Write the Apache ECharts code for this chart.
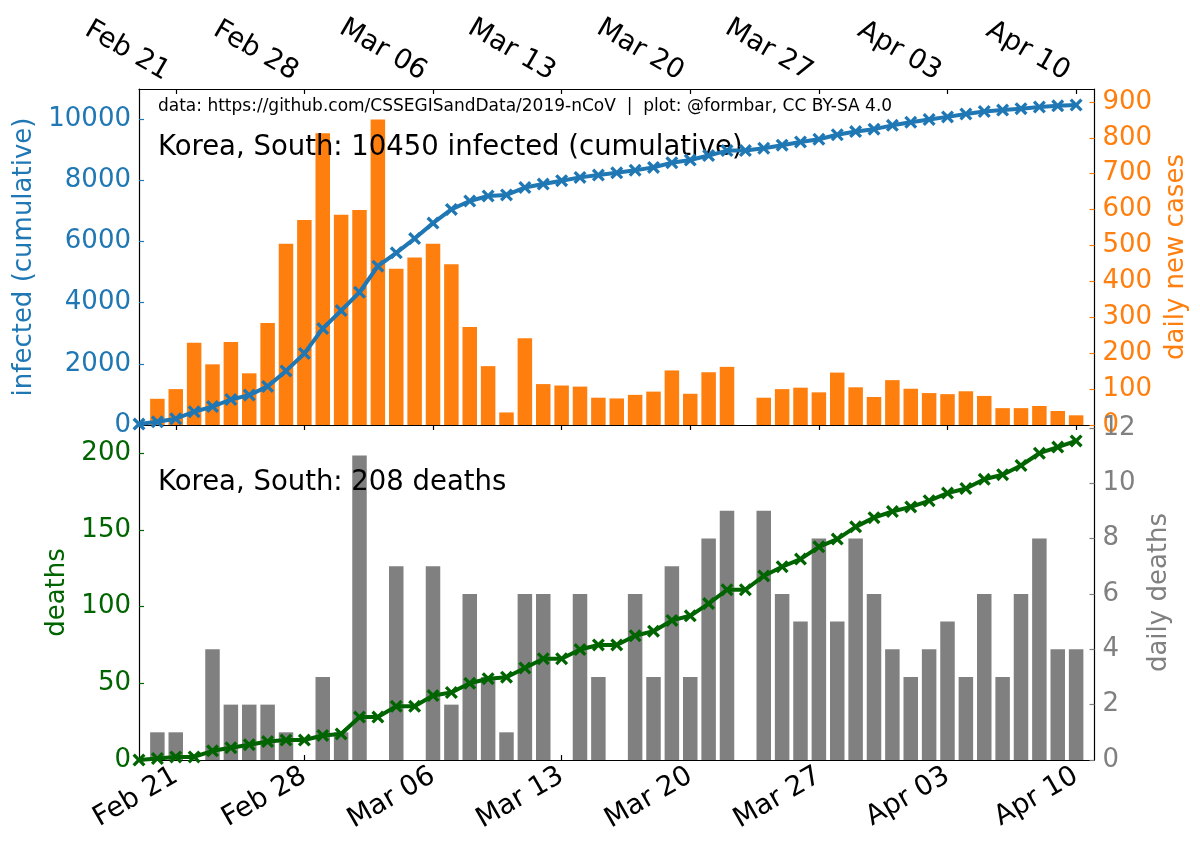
<!DOCTYPE html>
<html>
<head>
<meta charset="utf-8">
<script src="https://cdn.jsdelivr.net/npm/echarts@6/dist/echarts.min.js"></script>
<style>html,body{margin:0;padding:0;background:#fff}#c{width:1200px;height:850px}</style>
</head>
<body>
<div id="c"></div>
<script>
// ---- data ----
const dates = ['2020-02-19','2020-02-20','2020-02-21','2020-02-22','2020-02-23','2020-02-24','2020-02-25','2020-02-26','2020-02-27','2020-02-28','2020-02-29',
'2020-03-01','2020-03-02','2020-03-03','2020-03-04','2020-03-05','2020-03-06','2020-03-07','2020-03-08','2020-03-09','2020-03-10',
'2020-03-11','2020-03-12','2020-03-13','2020-03-14','2020-03-15','2020-03-16','2020-03-17','2020-03-18','2020-03-19','2020-03-20',
'2020-03-21','2020-03-22','2020-03-23','2020-03-24','2020-03-25','2020-03-26','2020-03-27','2020-03-28','2020-03-29','2020-03-30','2020-03-31',
'2020-04-01','2020-04-02','2020-04-03','2020-04-04','2020-04-05','2020-04-06','2020-04-07','2020-04-08','2020-04-09','2020-04-10'];
const cumInfected = [31,104,204,433,602,833,977,1261,1766,2337,3150,
3736,4335,5186,5621,6088,6593,7041,7314,7478,7513,
7755,7869,7979,8086,8162,8236,8320,8413,8565,8652,
8799,8961,8961,9037,9137,9241,9332,9478,9583,9661,9786,
9887,9976,10062,10156,10237,10284,10331,10384,10423,10450];
// daily values start at Feb 20
const dailyCases = [73,100,229,169,231,144,284,505,571,813,
586,599,851,435,467,505,448,273,164,35,
242,114,110,107,76,74,84,93,152,87,
147,162,0,76,100,104,91,146,105,78,125,
101,89,86,94,81,47,47,53,39,27];
const cumDeaths = [0,1,2,2,6,8,10,12,13,13,16,
17,28,28,35,35,42,44,50,53,54,
60,66,66,72,75,75,81,84,91,94,
102,111,111,120,126,131,139,144,152,158,162,
165,169,174,177,183,186,192,200,204,208];
const dailyDeaths = [1,1,0,4,2,2,2,1,0,3,
1,11,0,7,0,7,2,6,3,1,
6,6,0,6,3,0,6,3,7,3,
8,9,0,9,6,5,8,5,8,6,4,
3,4,5,3,6,3,6,8,4,4];
const tickDates = ['2020-02-21','2020-02-28','2020-03-06','2020-03-13','2020-03-20','2020-03-27','2020-04-03','2020-04-10'];
const tickLabels = ['Feb 21','Feb 28','Mar 06','Mar 13','Mar 20','Mar 27','Apr 03','Apr 10'];
const casesTicks = [0,2000,4000,6000,8000,10000];
const dailyCasesTicks = [0,100,200,300,400,500,600,700,800,900];
const deathsTicks = [0,50,100,150,200];
const dailyDeathsTicks = [0,2,4,6,8,10,12];
const country = 'Korea, South';

// ---- helpers ----
const DAY = 86400000;
function ts(s){const p=s.split('-').map(Number);return Date.UTC(p[0],p[1]-1,p[2]);}
const t0 = ts(dates[0]);
function dayIdx(s){return Math.round((ts(s)-t0)/DAY);}
const xMax = dayIdx(dates[dates.length-1]) + 1;
const tickPos = tickDates.map(dayIdx);
function fmtX(v){const i=tickPos.indexOf(Math.round(v));return i>=0?tickLabels[i]:'';}

const BLUE='#1f77b4', ORANGE='#ff7f0e', GREEN='#006400', GRAY='#808080';
const FONT='DejaVu Sans';
const FS=26, FSX=27.5;
const XPATH='path://M0,1.8 L1.8,0 L5,3.2 L8.2,0 L10,1.8 L6.8,5 L10,8.2 L8.2,10 L5,6.8 L1.8,10 L0,8.2 L3.2,5 Z';
const frame = {show:true, onZero:false, lineStyle:{color:'#000', width:1.2}};

function xAx(grid, pos, opts){
  return Object.assign({
    type:'value', gridIndex:grid, position:pos, min:0, max:xMax,
    axisLine:frame, splitLine:{show:false},
    axisTick:{show:false}, axisLabel:{show:false}
  }, opts);
}
function yAx(grid, pos, color, maxV, ticks, name, gap){
  return {
    type:'value', gridIndex:grid, position:pos, min:0, max:maxV,
    axisLine:frame, splitLine:{show:false},
    axisTick:{show:true, inside:true, length:5, customValues:ticks, lineStyle:{color:color, width:1.2}},
    axisLabel:{show:true, customValues:ticks, color:color, fontSize:FS, fontFamily:FONT, margin:8, formatter:function(v){return String(v);}},
    name:name, nameLocation:'middle', nameRotate:90, nameGap:gap,
    nameTextStyle:{color:color, fontSize:FS, fontFamily:FONT}
  };
}

const chart = echarts.init(document.getElementById('c'), null, {renderer:'canvas'});
const G0={left:139, top:89, width:955.5, height:336};
const G1={left:139, top:425, width:955.5, height:335};
const tickX = {show:true, length:5, customValues:tickPos, lineStyle:{color:'#000',width:1.2}};

chart.setOption({
  animation:false,
  backgroundColor:'#fff',
  textStyle:{fontFamily:FONT},
  grid:[G0,G1],
  xAxis:[
    xAx(0,'bottom',{axisTick:Object.assign({inside:false},tickX)}),
    xAx(0,'top',{axisTick:Object.assign({inside:true},tickX),
      axisLabel:{show:true, customValues:tickPos, formatter:fmtX, rotate:30, fontSize:FSX, fontFamily:FONT, color:'#000', margin:10, padding:[0,10,0,0]}}),
    xAx(1,'top',{}),
    xAx(1,'bottom',{axisTick:Object.assign({inside:true},tickX),
      axisLabel:{show:true, customValues:tickPos, formatter:fmtX, rotate:30, fontSize:FSX, fontFamily:FONT, color:'#000', margin:14}})
  ],
  yAxis:[
    yAx(0,'left',BLUE,cumInfected[cumInfected.length-1]*1.05,casesTicks,'infected (cumulative)',98),
    yAx(0,'right',ORANGE,Math.max.apply(null,dailyCases)*1.1,dailyCasesTicks,'daily new cases',58),
    yAx(1,'left',GREEN,cumDeaths[cumDeaths.length-1]*1.05,deathsTicks,'deaths',58),
    yAx(1,'right',GRAY,Math.max.apply(null,dailyDeaths)*1.1,dailyDeathsTicks,'daily deaths',40)
  ],
  series:[
    {type:'bar', xAxisIndex:0, yAxisIndex:1, barWidth:14.5, z:2,
     itemStyle:{color:ORANGE}, data:dailyCases.map((v,i)=>[dayIdx(dates[i+1]),v])},
    {type:'line', xAxisIndex:0, yAxisIndex:0, z:10, symbol:XPATH, symbolSize:13,
     lineStyle:{color:BLUE,width:4}, itemStyle:{color:BLUE}, showAllSymbol:true,
     data:cumInfected.map((v,i)=>[dayIdx(dates[i]),v])},
    {type:'bar', xAxisIndex:3, yAxisIndex:3, barWidth:14.5, z:2,
     itemStyle:{color:GRAY}, data:dailyDeaths.map((v,i)=>[dayIdx(dates[i+1]),v])},
    {type:'line', xAxisIndex:3, yAxisIndex:2, z:10, symbol:XPATH, symbolSize:13,
     lineStyle:{color:GREEN,width:4}, itemStyle:{color:GREEN}, showAllSymbol:true,
     data:cumDeaths.map((v,i)=>[dayIdx(dates[i]),v])}
  ],
  graphic:[
    {type:'text', x:158, y:107, z:5, style:{text:'data: https://github.com/CSSEGISandData/2019-nCoV  |  plot: @formbar, CC BY-SA 4.0', fontSize:17, fontFamily:FONT, fill:'#000', align:'left', verticalAlign:'middle'}},
    {type:'text', x:158, y:148, z:5, style:{text:country+': '+cumInfected[cumInfected.length-1]+' infected (cumulative)', fontSize:27.5, fontFamily:FONT, fill:'#000', align:'left', verticalAlign:'middle'}},
    {type:'text', x:158, y:483, z:5, style:{text:country+': '+cumDeaths[cumDeaths.length-1]+' deaths', fontSize:27.5, fontFamily:FONT, fill:'#000', align:'left', verticalAlign:'middle'}}
  ]
});
</script>
</body>
</html>
